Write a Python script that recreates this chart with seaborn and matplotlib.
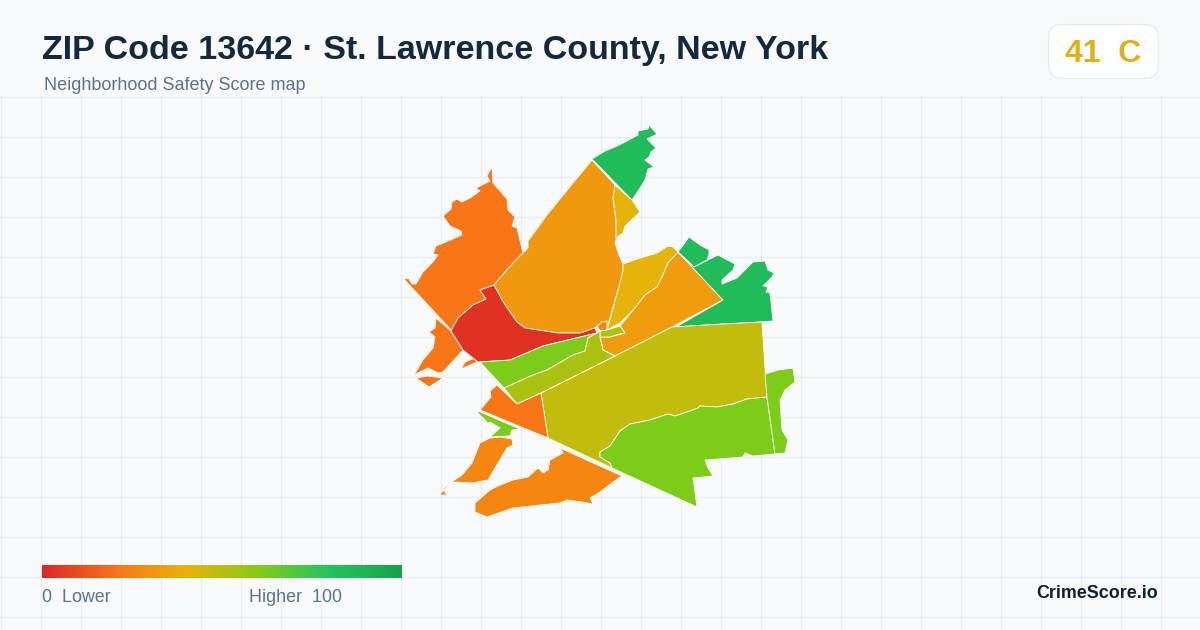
import matplotlib
matplotlib.use("Agg")
import matplotlib.pyplot as plt
from matplotlib.patches import FancyBboxPatch
import numpy as np
import seaborn as sns

# Map outlines, in image pixels (x, y)
nw_orange = [(403,278),(409,279),(412,284),(416,284),(423,272),(432,263),(438,255),(433,254),(436,246),(448,241),(462,235),(461,231),(450,226),(443,216),(451,209),(452,202),(457,199),(462,202),(470,198),(480,191),(476,188),(490,181),(487,176),(492,167),(493,183),(507,199),(508,210),(515,217),(512,226),(517,228),(523,253),(513,263),(505,272),(494,285),(480,290),(486,299),(473,305),(458,318),(452,331)]
west_orange = [(436,318),(435,328),(429,332),(435,337),(433,348),(423,360),(414,375),(428,368),(438,373),(443,372),(463,350),(451,331)]
west_orange_b = [(416,378),(429,387),(443,378),(428,376)]
west_orange_c = [(461,369),(465,362),(475,358),(477,362)]
red_tract = [(494,285),(480,290),(486,299),(473,305),(458,318),(451,331),(463,350),(478,362),(510,360),(543,346),(597,333),(595,328),(580,333),(558,333),(525,328),(517,322),(507,308),(502,300)]
big_amber = [(494,285),(505,272),(513,263),(523,253),(528,248),(528,241),(547,215),(573,183),(592,160),(615,185),(613,198),(616,220),(616,240),(615,243),(619,255),(623,264),(623,270),(620,283),(607,328),(602,322),(597,326),(595,328),(580,333),(558,333),(525,328),(517,322),(507,308),(502,300)]
small_orange = [(597,326),(602,322),(607,321),(607,330),(600,331)]
north_green = [(592,159),(605,151),(615,147),(625,142),(638,135),(638,131),(648,129),(649,125),(657,134),(647,139),(656,148),(651,152),(649,157),(645,160),(654,167),(648,169),(645,180),(640,188),(632,200)]
north_yellow = [(615,185),(632,200),(640,212),(625,226),(623,233),(616,238),(616,220),(613,198)]
mid_yellow = [(623,264),(640,258),(657,253),(668,246),(673,247),(678,252),(668,263),(662,277),(657,287),(645,295),(635,308),(620,323),(607,330),(620,283),(623,270)]
east_amber = [(678,252),(723,300),(672,327),(615,356),(603,350),(600,337),(610,337),(625,333),(620,326),(635,308),(645,295),(657,287),(662,277),(668,263)]
small_lime = [(600,331),(607,330),(620,326),(625,333),(616,335),(610,337),(600,337)]
ne_green_a = [(678,252),(689,237),(700,245),(709,250),(709,254),(707,260),(694,267)]
ne_green_b = [(694,267),(718,255),(735,264),(733,270),(722,280),(722,284),(737,278),(753,262),(765,261),(768,270),(774,273),(772,277),(763,286),(768,287),(766,292),(770,293),(773,321),(760,322),(723,324),(676,327),(723,300),(678,252)]
olive_tract = [(541,393),(615,356),(672,327),(723,324),(762,322),(767,397),(747,399),(733,404),(717,407),(700,406),(698,408),(687,412),(675,416),(668,414),(650,420),(630,424),(620,431),(614,440),(610,446),(600,452),(600,457),(610,463),(612,468),(548,438)]
se_lime = [(767,397),(775,454),(753,456),(745,453),(743,457),(705,460),(708,468),(713,476),(693,478),(697,507),(612,468),(610,463),(600,457),(600,452),(610,446),(614,440),(620,431),(630,424),(650,420),(668,414),(675,416),(687,412),(698,408),(700,406),(717,407),(733,404),(747,399)]
east_lime = [(765,374),(778,370),(793,368),(795,382),(785,390),(780,400),(782,430),(788,440),(785,453),(775,454),(767,397)]
mid_lime = [(480,362),(510,360),(543,346),(597,333),(588,338),(585,351),(573,355),(547,370),(533,375),(504,388)]
strip_olive = [(504,388),(517,404),(541,393),(615,356),(603,350),(600,337),(600,331),(597,333),(588,338),(585,351),(573,355),(547,370),(533,375)]
sw_orange = [(497,385),(490,391),(491,397),(480,410),(548,438),(541,393),(517,404)]
sw_lime = [(478,411),(520,429),(512,430),(510,436),(490,437),(500,428),(490,422),(483,425),(480,428),(487,422),(478,413)]
island_orange = [(490,438),(500,437),(512,439),(513,445),(507,448),(498,463),(488,480),(472,483),(455,482),(450,483),(443,489),(447,495),(439,495),(453,481),(462,475),(472,463),(480,443)]
south_orange = [(560,448),(563,453),(550,460),(548,470),(543,473),(538,468),(528,477),(513,480),(500,485),(490,490),(475,503),(475,512),(487,517),(513,508),(540,505),(560,503),(567,500),(582,502),(593,504),(590,498),(600,492),(613,482),(622,476)]

tracts = [nw_orange, west_orange, west_orange_b, west_orange_c, big_amber, red_tract,
          small_orange, north_green, north_yellow, mid_yellow, east_amber, small_lime,
          ne_green_a, ne_green_b, olive_tract, se_lime, east_lime, mid_lime, strip_olive,
          sw_orange, sw_lime, island_orange, south_orange]
scores = [21, 21, 21, 21, 32, 3,
          26, 85, 41, 41, 33, 53,
          85, 85, 48, 61, 61, 61, 52,
          21, 61, 26, 26]

scale_stops = ["#dc2626", "#f97316", "#eab308", "#84cc16", "#22c55e", "#16a34a"]
legend_scale = [np.arange(0, 100.5, 0.5)]

title = "ZIP Code 13642 · St. Lawrence County, New York"
subtitle = "Neighborhood Safety Score map"
badge = "41  C"
low_label = "0  Lower"
high_label = "Higher  100"
brand = "CrimeScore.io"

sns.set_theme(style="white")
plt.rcParams["font.family"] = ["Liberation Sans", "DejaVu Sans"]
cmap = sns.blend_palette(scale_stops, as_cmap=True)

fig = plt.figure(figsize=(12, 6.3), dpi=100, facecolor="#f8fafc")

# faint grid only below the header
grid_ax = fig.add_axes([0, 0, 1, 534 / 630])
grid_ax.set_facecolor("#f8fafc")
grid_ax.set_xlim(0, 1200)
grid_ax.set_ylim(630, 96)
grid_ax.set_xticks(np.arange(0.5, 1200, 40))
grid_ax.set_yticks(np.arange(96.5, 630, 40))
grid_ax.grid(True, color="#e6eef3", linewidth=0.9)
grid_ax.tick_params(length=0, labelleft=False, labelbottom=False)
sns.despine(ax=grid_ax, left=True, bottom=True)

ax = fig.add_axes([0, 0, 1, 1])
ax.patch.set_alpha(0)
ax.set_xlim(0, 1200)
ax.set_ylim(630, 0)
ax.axis("off")

for outline, score in zip(tracts, scores):
    xs, ys = zip(*outline)
    ax.fill(xs, ys, facecolor=cmap(score / 100), edgecolor="white", linewidth=0.6, joinstyle="round")

ax.text(42, 50.5, title, fontsize=24.5, fontweight="bold", color="#14293f", va="center", ha="left")
ax.text(44, 85, subtitle, fontsize=13, color="#5a7391", va="center", ha="left")

ax.add_patch(FancyBboxPatch((1048.5, 24.5), 110, 54, boxstyle="round,pad=0,rounding_size=14",
                            facecolor="white", edgecolor="#e2e8f0", linewidth=0.8))
ax.text(1103, 54, badge, fontsize=23, fontweight="bold", color="#e2b013", va="center", ha="center")

ax.text(42, 597.5, low_label, fontsize=12.85, color="#5a7391", va="center", ha="left")
ax.text(249, 597.5, high_label, fontsize=12.85, color="#5a7391", va="center", ha="left")
ax.text(1158, 594, brand, fontsize=12.9, fontweight="bold", color="#0f2033", va="center", ha="right")

# gradient legend
legend_ax = fig.add_axes([42 / 1200, 1 - 578 / 630, 360 / 1200, 13 / 630])
sns.heatmap(legend_scale, ax=legend_ax, cmap=cmap, vmin=0, vmax=100, cbar=False,
            xticklabels=False, yticklabels=False, linewidths=0, rasterized=True)

fig.savefig("out.png", dpi=100, facecolor=fig.get_facecolor())
